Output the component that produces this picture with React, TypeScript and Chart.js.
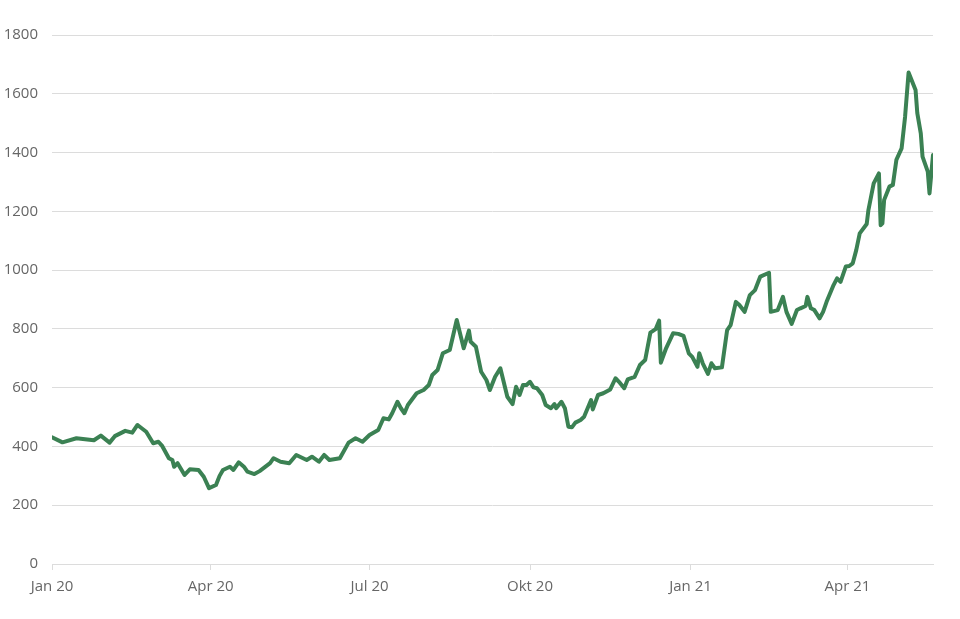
import React, { useEffect, useRef } from "react";
import { Chart, registerables } from "chart.js";

Chart.register(...registerables);

// days since 1 Jan 2020
const days: number[] = [
  0, 6, 14, 24, 28, 33, 36, 42, 46, 49, 54, 58, 61, 63, 67, 69, 70, 72, 76, 79,
  84, 87, 90, 94, 96, 98, 102, 104, 107, 110, 112, 116, 119, 125, 127, 131, 136, 140, 146, 149,
  153, 156, 159, 165, 170, 174, 178, 182, 187, 190, 193, 195, 198, 200, 202, 204, 209, 213, 216, 218,
  221, 224, 228, 230, 232, 236, 239, 240, 243, 246, 249, 251, 254, 257, 261, 264, 266, 268, 270, 272,
  274, 276, 278, 281, 283, 286, 288, 289, 292, 294, 296, 298, 300, 303, 305, 309, 310, 313, 316, 320,
  323, 325, 328, 330, 334, 337, 340, 343, 346, 348, 349, 352, 356, 359, 362, 365, 367, 370, 371, 373,
  376, 378, 380, 384, 387, 389, 392, 394, 397, 400, 403, 406, 411, 412, 416, 419, 421, 424, 427, 429,
  432, 433, 435, 437, 440, 442, 444, 448, 450, 452, 455, 457, 459, 461, 463, 467, 468, 471, 474, 475,
  476, 477, 480, 482, 484, 487, 489, 491, 495, 496, 498, 499, 502, 503, 505,
];

const prices: number[] = [
  431, 414, 428, 421, 437, 413, 435, 453, 447, 473, 450, 411, 416, 403, 360, 354, 331, 343, 303, 322,
  320, 297, 258, 269, 299, 320, 331, 320, 346, 331, 314, 306, 316, 343, 360, 348, 343, 371, 354, 365,
  348, 371, 354, 360, 413, 428, 416, 439, 456, 496, 492, 513, 552, 530, 513, 541, 581, 592, 609, 643,
  660, 717, 728, 779, 830, 734, 794, 756, 739, 654, 626, 592, 637, 666, 569, 544, 603, 575, 609, 609,
  620, 601, 598, 575, 541, 530, 544, 530, 552, 530, 467, 465, 481, 490, 501, 558, 526, 575, 581, 594,
  632, 620, 598, 628, 637, 677, 694, 787, 799, 828, 685, 734, 785, 783, 776, 717, 705, 671, 717, 683,
  647, 683, 666, 669, 796, 813, 892, 881, 858, 915, 932, 978, 991, 858, 864, 909, 858, 817, 864, 870,
  878, 909, 870, 864, 836, 858, 892, 949, 972, 960, 1012, 1014, 1023, 1068, 1125, 1157, 1205, 1295, 1329, 1153,
  1159, 1239, 1284, 1290, 1375, 1414, 1522, 1672, 1613, 1534, 1465, 1386, 1335, 1261, 1392,
];

const tickDays: number[] = [0, 91, 182, 274, 366, 456];
const tickLabels: string[] = ["Jan 20", "Apr 20", "Jul 20", "Okt 20", "Jan 21", "Apr 21"];

const LINE_COLOR = "#3b8153";
const GRID_COLOR = "#dcdcdc";
const TEXT_COLOR = "#666666";

export default function App() {
  const ref = useRef<HTMLCanvasElement | null>(null);

  useEffect(() => {
    if (!ref.current) return;
    const points = days.map((d, i) => ({ x: d, y: prices[i] }));
    const chart = new Chart(ref.current, {
      type: "line",
      data: {
        datasets: [
          {
            data: points,
            borderColor: LINE_COLOR,
            borderWidth: 4,
            pointRadius: 0,
            tension: 0,
            borderJoinStyle: "round",
            borderCapStyle: "round",
            fill: false,
          },
        ],
      },
      options: {
        animation: false,
        responsive: false,
        maintainAspectRatio: false,
        layout: { padding: { top: 35, right: 27, left: 0, bottom: 0 } },
        plugins: { legend: { display: false }, tooltip: { enabled: false } },
        font: { family: "'Open Sans', sans-serif", size: 15 },
        scales: {
          x: {
            type: "linear",
            min: 0,
            max: 505,
            afterBuildTicks: (scale: any) => {
              scale.ticks = tickDays.map((v) => ({ value: v }));
            },
            afterFit: (scale: any) => {
              scale.height = 55;
            },
            ticks: {
              autoSkip: false,
              maxRotation: 0,
              color: TEXT_COLOR,
              padding: 8,
              font: { family: "'Open Sans', sans-serif", size: 15 },
              callback: (v: any) => {
                const i = tickDays.indexOf(Number(v));
                return i >= 0 ? tickLabels[i] : "";
              },
            },
            grid: {
              drawOnChartArea: false,
              drawTicks: true,
              tickLength: 6,
              color: GRID_COLOR,
            },
            border: { display: true, color: GRID_COLOR },
          },
          y: {
            min: 0,
            max: 1800,
            afterFit: (scale: any) => {
              scale.width = 52;
            },
            ticks: {
              stepSize: 200,
              color: TEXT_COLOR,
              padding: 14,
              font: { family: "'Open Sans', sans-serif", size: 15 },
              callback: (v: any) => String(v),
            },
            grid: { color: GRID_COLOR, drawTicks: false },
            border: { display: false },
          },
        },
      },
    });
    return () => chart.destroy();
  }, []);

  return (
    <div style={{ position: "absolute", left: 0, top: 0, width: 960, height: 619, background: "#fff" }}>
      <canvas ref={ref} width={960} height={619} style={{ width: 960, height: 619 }} />
    </div>
  );
}
